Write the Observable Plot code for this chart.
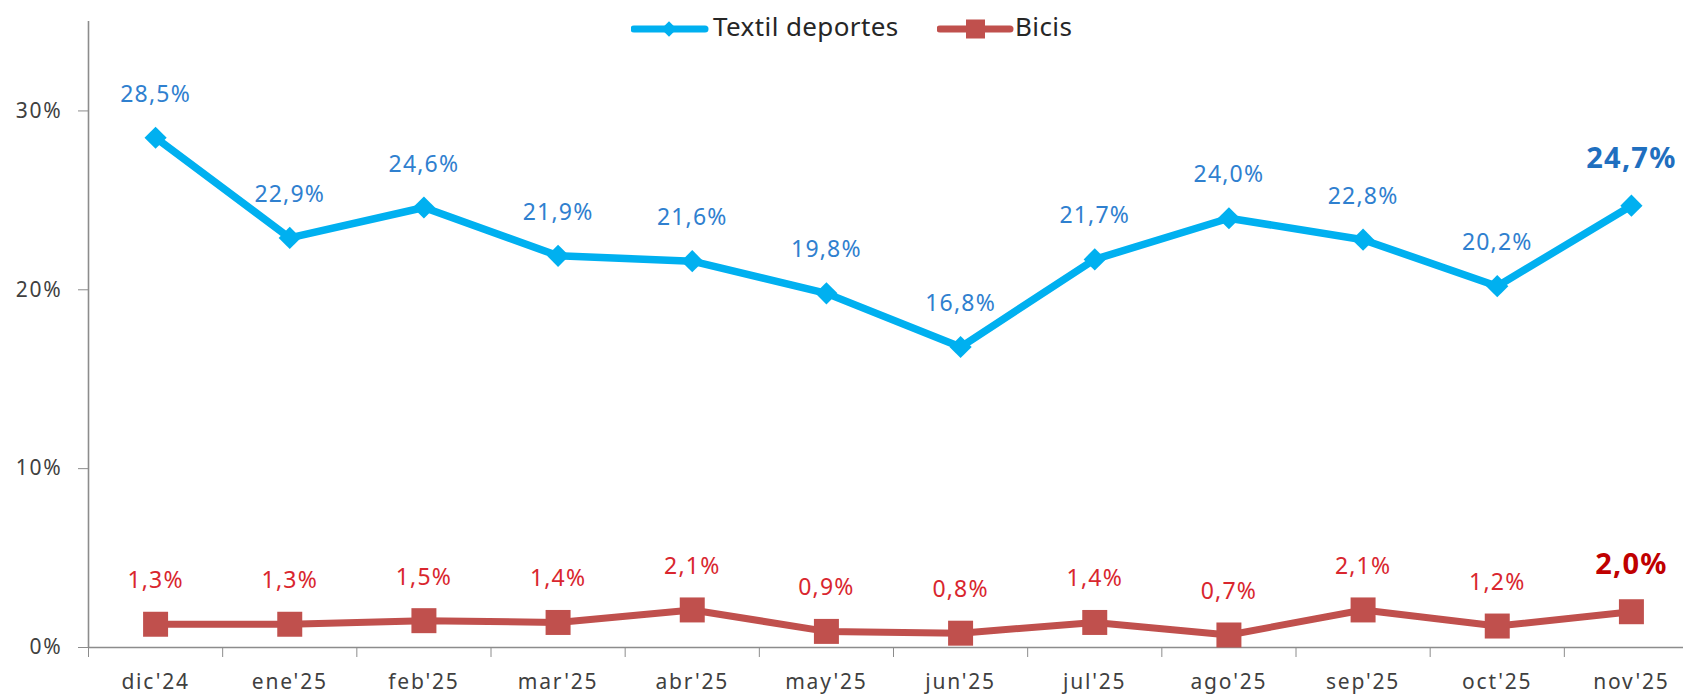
<!DOCTYPE html>
<html>
<head>
<meta charset="utf-8">
<script src="https://cdn.jsdelivr.net/npm/d3@7"></script>
<script src="https://cdn.jsdelivr.net/npm/@observablehq/plot@0.6"></script>
<style>
  html, body { margin: 0; padding: 0; background: #fff; overflow: hidden; }
  #wrap { position: relative; width: 1683px; height: 695px; overflow: hidden; }
  #chart { position: absolute; left: 0; top: 0; width: 1700px; }
  #chart svg { max-width: none !important; display: block; }
  .leg { position: absolute; font-family: "Noto Sans", sans-serif; font-size: 26px; line-height: 35px; color: #262626; letter-spacing: 0.4px; white-space: nowrap; }
  .sw { position: absolute; }
  svg g[aria-label="text"] text { letter-spacing: 1.2px; }
  svg g[aria-label$="tick label"] text { letter-spacing: 1.8px; }
</style>
</head>
<body>
<div id="wrap">
  <div id="chart"></div>
  <svg class="sw" style="left:631px; top:19px" width="78" height="20">
    <line x1="3" y1="10" x2="74" y2="10" stroke="#00B0F0" stroke-width="7" stroke-linecap="round"/>
    <rect x="32.5" y="4.5" width="11" height="11" fill="#00B0F0" transform="rotate(45 38 10)"/>
  </svg>
  <div class="leg" style="left:713px; top:9px">Textil deportes</div>
  <svg class="sw" style="left:937px; top:19px" width="78" height="20">
    <line x1="3" y1="10" x2="73" y2="10" stroke="#C0504D" stroke-width="7" stroke-linecap="round"/>
    <rect x="29" y="0.5" width="19" height="19" fill="#C0504D"/>
  </svg>
  <div class="leg" style="left:1015px; top:9px">Bicis</div>
</div>
<script>
const months = ["dic'24","ene'25","feb'25","mar'25","abr'25","may'25","jun'25","jul'25","ago'25","sep'25","oct'25","nov'25"];
const textil = [28.5, 22.9, 24.6, 21.9, 21.6, 19.8, 16.8, 21.7, 24.0, 22.8, 20.2, 24.7];
const bicis  = [1.3, 1.3, 1.5, 1.4, 2.1, 0.9, 0.8, 1.4, 0.7, 2.1, 1.2, 2.0];
const yTicks = [0, 0.1, 0.2, 0.3];

const fmt = v => v.toFixed(1).replace(".", ",") + "%";
const dataT = months.map((m, i) => ({i, month: m, v: textil[i] / 100, label: fmt(textil[i])}));
const dataB = months.map((m, i) => ({i, month: m, v: bicis[i] / 100, label: fmt(bicis[i])}));
const last = months.length - 1;
const isLast = (d) => d.i === last;
const notLast = (d) => d.i !== last;

const axisGrey = "#8C8C8C";
const chart = Plot.plot({
  width: 1700,
  height: 695,
  marginLeft: 88,
  marginRight: 2,
  marginTop: 21,
  marginBottom: 48,
  style: {fontFamily: "'Noto Sans', sans-serif", fontSize: "21px", color: "#404040", background: "#fff"},
  x: {type: "linear", domain: [-0.5, months.length - 0.5]},
  y: {domain: [0, 0.35]},
  marks: [
    Plot.ruleX([-0.5], {stroke: axisGrey, strokeWidth: 1.6}),
    Plot.ruleY([0], {stroke: axisGrey, strokeWidth: 1.6}),
    Plot.axisY({ticks: yTicks, tickFormat: d => Math.round(d * 100) + "%", tickSize: 10, tickPadding: 16, stroke: axisGrey, fill: "#404040", label: null, fontSize: 21}),
    Plot.axisX({ticks: d3.range(months.length + 1).map(k => k - 0.5), tickFormat: () => "", tickSize: 10, stroke: axisGrey, label: null}),
    Plot.axisX({ticks: d3.range(months.length), tickFormat: i => months[i], tickSize: 0, tickPadding: 27, fill: "#404040", label: null, fontSize: 21}),
    Plot.line(dataB, {x: "i", y: "v", stroke: "#C0504D", strokeWidth: 7}),
    Plot.dot(dataB, {x: "i", y: "v", symbol: "square", r: 14.1, fill: "#C0504D", stroke: "none"}),
    Plot.line(dataT, {x: "i", y: "v", stroke: "#00B0F0", strokeWidth: 7.5}),
    Plot.dot(dataT, {x: "i", y: "v", symbol: "diamond2", r: 10, fill: "#00B0F0", stroke: "none"}),
    Plot.text(dataT, {filter: notLast, x: "i", y: "v", text: "label", dy: -36, lineAnchor: "bottom", fill: "#2F80CF", fontSize: 23}),
    Plot.text(dataB, {filter: notLast, x: "i", y: "v", text: "label", dy: -36, lineAnchor: "bottom", fill: "#D9262E", fontSize: 23}),
    Plot.text(dataT, {filter: isLast, x: "i", y: "v", text: "label", dy: -38, lineAnchor: "bottom", fill: "#1F6FBF", fontSize: 29, fontWeight: "bold"}),
    Plot.text(dataB, {filter: isLast, x: "i", y: "v", text: "label", dy: -38, lineAnchor: "bottom", fill: "#C00000", fontSize: 29, fontWeight: "bold"})
  ]
});
document.getElementById("chart").appendChild(chart);
</script>
</body>
</html>
